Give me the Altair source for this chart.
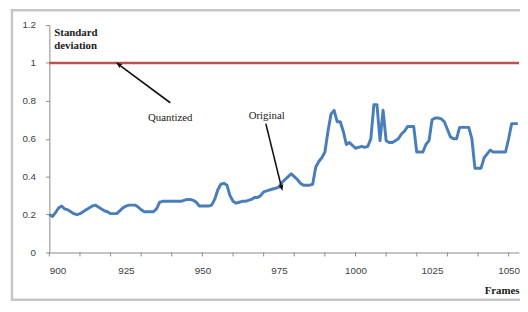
import altair as alt
import pandas as pd

frames = list(range(900, 1054))
original = [
    0.20, 0.19, 0.21, 0.235, 0.245, 0.23, 0.225, 0.215, 0.205, 0.20,   # 900-909
    0.205, 0.215, 0.225, 0.235, 0.245, 0.25, 0.24, 0.23, 0.22, 0.215,  # 910-919
    0.205, 0.205, 0.205, 0.22, 0.235, 0.245, 0.25, 0.25, 0.25, 0.24,   # 920-929
    0.225, 0.215, 0.215, 0.215, 0.215, 0.23, 0.265, 0.27, 0.27, 0.27,  # 930-939
    0.27, 0.27, 0.27, 0.27, 0.275, 0.28, 0.28, 0.275, 0.265, 0.245,    # 940-949
    0.245, 0.245, 0.245, 0.25, 0.28, 0.33, 0.36, 0.365, 0.355, 0.30,   # 950-959
    0.27, 0.26, 0.265, 0.27, 0.27, 0.275, 0.28, 0.29, 0.29, 0.30,      # 960-969
    0.32, 0.325, 0.33, 0.335, 0.34, 0.345, 0.37, 0.385, 0.40, 0.415,   # 970-979
    0.40, 0.385, 0.365, 0.355, 0.355, 0.355, 0.36, 0.45, 0.48, 0.50,   # 980-989
    0.53, 0.64, 0.73, 0.75, 0.69, 0.69, 0.64, 0.57, 0.58, 0.565,       # 990-999
    0.55, 0.555, 0.56, 0.555, 0.56, 0.60, 0.78, 0.78, 0.59, 0.75,      # 1000-1009
    0.59, 0.58, 0.58, 0.59, 0.60, 0.625, 0.64, 0.665, 0.665, 0.665,    # 1010-1019
    0.53, 0.53, 0.53, 0.57, 0.59, 0.70, 0.71, 0.71, 0.705, 0.69,       # 1020-1029
    0.65, 0.61, 0.60, 0.60, 0.66, 0.66, 0.66, 0.66, 0.60, 0.445,       # 1030-1039
    0.445, 0.445, 0.50, 0.52, 0.54, 0.53, 0.53, 0.53, 0.53, 0.53,      # 1040-1049
    0.60, 0.68, 0.68, 0.68,                                            # 1050-1053
]
quantized_level = 1.0
x_tick_marks = list(range(900, 1051, 10))
x_label_values = [900, 925, 950, 975, 1000, 1025, 1050]
y_values = [0, 0.2, 0.4, 0.6, 0.8, 1.0, 1.2]

# annotation texts (data coordinates)
ann_text = ["Quantized", "Original"]
ann_x = [939.5, 971.0]
ann_y = [0.71, 0.722]
# arrows: tail -> head
arrow_x = [939.5, 970.7]
arrow_y = [0.79, 0.68]
arrow_x2 = [922.8, 975.8]
arrow_y2 = [0.99, 0.345]
arrow_angle = [307, 166]

W, H = 477, 231
xscale = alt.Scale(domain=[900, 1053.4], nice=False, zero=False)
yscale = alt.Scale(domain=[0, 1.2], nice=False, zero=False)

ax_x = alt.Axis(values=x_label_values, format="d", title="Frames", grid=False,
                domainColor="#8a8a8a", tickSize=0, labelPadding=13, labelOverlap=False,
                labelFont="Liberation Sans", labelFontSize=10, labelColor="#404040",
                titleFont="Liberation Serif", titleFontSize=11, titleFontWeight="bold",
                titleColor="#202020", titleAnchor="end", titleAlign="right",
                titleX=W, titleY=39, titleBaseline="middle")
ax_y = alt.Axis(values=y_values, format="~g", title=None,
                grid=False, labelOverlap=False, labelFlush=False,
                domainColor="#8a8a8a", tickColor="#8a8a8a", tickSize=4,
                labelPadding=10, labelFont="Liberation Sans", labelFontSize=10,
                labelColor="#404040")

df = pd.DataFrame({"frame": frames, "value": original})
ticks_df = pd.DataFrame({"frame": x_tick_marks})
ann_df = pd.DataFrame({"label": ann_text, "x": ann_x, "y": ann_y})
arr_df = pd.DataFrame({"x": arrow_x, "y": arrow_y, "x2": arrow_x2, "y2": arrow_y2, "angle": arrow_angle})
sd_df = pd.DataFrame({"x": [901.6], "y": [1.19], "t": ["Standard\ndeviation"]})


def X(field):
    return alt.X(field, type="quantitative", scale=xscale, axis=ax_x)


def Y(field):
    return alt.Y(field, type="quantitative", scale=yscale, axis=ax_y)


frame_box = alt.Chart(pd.DataFrame({"a": [0]})).mark_rect(
    fill=None, stroke="#c6c6c6", strokeWidth=2.5
).encode(x=alt.value(-38), x2=alt.value(490), y=alt.value(-15), y2=alt.value(279))

line = alt.Chart(df).mark_line(color="#4a7ebb", strokeWidth=3, strokeJoin="round").encode(
    x=X("frame"), y=Y("value")
)

xticks = alt.Chart(ticks_df).mark_rule(color="#8a8a8a", strokeWidth=1).encode(
    x=X("frame"), y=alt.value(H), y2=alt.value(H + 4)
)

red = alt.Chart(pd.DataFrame({"v": [quantized_level]})).mark_rule(
    color="#c0504d", strokeWidth=2.5
).encode(y=Y("v"))

sd_text = alt.Chart(sd_df).mark_text(
    align="left", baseline="top", font="Liberation Serif", fontSize=11, fontWeight="bold",
    color="#202020", lineBreak="\n", lineHeight=13
).encode(x=X("x"), y=Y("y"), text="t:N")

ann = alt.Chart(ann_df).mark_text(
    align="center", baseline="middle", font="Liberation Serif", fontSize=11, color="#202020"
).encode(x=X("x"), y=Y("y"), text="label:N")

arrows = alt.Chart(arr_df).mark_rule(color="#111111", strokeWidth=1.6).encode(
    x=X("x"), y=Y("y"), x2="x2:Q", y2="y2:Q"
)
heads = alt.Chart(arr_df).mark_point(
    shape="M0,-1L0.6,0.6L0,0.3L-0.6,0.6Z", filled=True, color="#111111", size=70, opacity=1
).encode(x=X("x2"), y=Y("y2"), angle=alt.Angle("angle:Q", scale=None))

chart = alt.layer(frame_box, red, line, xticks, sd_text, ann, arrows, heads).properties(
    width=W, height=H,
    autosize=alt.AutoSizeParams(type="none"),
    padding={"left": 42, "top": 15, "right": 1, "bottom": 50},
    background="white",
).configure_view(stroke=None).configure_axis(labelOverlap=False)

chart.save("out.html", embed_options={"renderer": "svg", "actions": False})
